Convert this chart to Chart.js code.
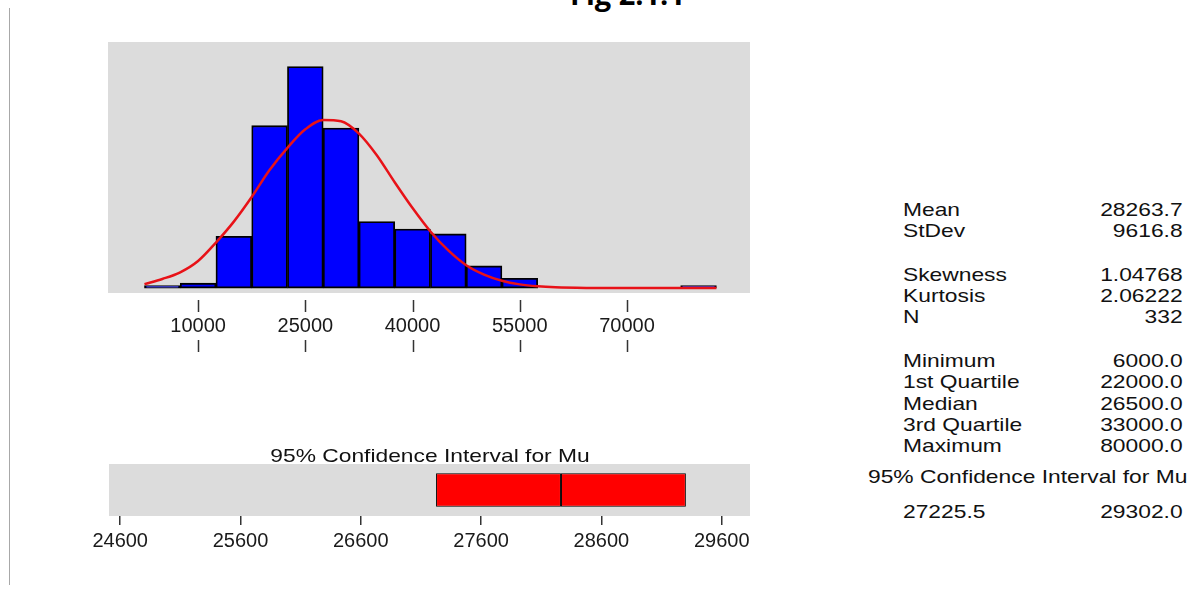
<!DOCTYPE html>
<html>
<head>
<meta charset="utf-8">
<title>Fig 2.1.1</title>
<script src="https://cdn.jsdelivr.net/npm/chart.js@4.4.1/dist/chart.umd.min.js"></script>
<style>
  html, body { margin: 0; padding: 0; background: #fff; }
  body { width: 1192px; height: 590px; position: relative; overflow: hidden;
         font-family: "Liberation Sans", Arial, sans-serif; color: #111; }
  .box { position: absolute; }
  #histBox { left: 0; top: 0; width: 800px; height: 380px; }
  #ciBox { left: 0; top: 430px; width: 800px; height: 160px; }
  #figTitle { position: absolute; left: 570px; top: -21px; font: bold 29px "Open Sans", sans-serif;
              line-height: 29px; white-space: nowrap; color: #000; }
  #frameLine { position: absolute; left: 9px; top: 8px; width: 1px; height: 577px; background: #a8a8a8; }
  .txt { position: absolute; white-space: nowrap; font-size: 19px; line-height: 22px;
         transform-origin: 0 50%; transform: scaleX(1.2); }
  .row { display: flex; justify-content: space-between; }
  #ciTitle { transform-origin: 50% 50%; transform: translateX(-50%) scaleX(1.2); }
</style>
</head>
<body>
<div id="figTitle">Fig 2.1.1</div>
<div id="frameLine"></div>
<div class="box" id="histBox"><canvas id="histChart"></canvas></div>
<div class="box" id="ciBox"><canvas id="ciChart"></canvas></div>
<div class="txt" id="ciTitle" style="left:429.5px; top:445px;">95% Confidence Interval for Mu</div>
<div id="stats"></div>

<script>
// histogram bins (bin centre, count), bin width 5000
const binCenters = [5000, 10000, 15000, 20000, 25000, 30000, 35000, 40000, 45000, 50000, 55000, 80000];
const binCounts = [1, 2, 21, 66, 90, 65, 27, 24, 22, 9, 4, 1];

// fitted normal curve
const curveX = [2500, 5000, 7500, 10000, 12500, 15000, 17500, 20000, 22500, 25000, 27500, 30000,
  32500, 35000, 37500, 40000, 42500, 45000, 47500, 50000, 52500, 55000, 57500, 60000, 65000, 70000, 75000, 82500];
const curveY = [1.6, 3.7, 6.4, 11, 18.5, 27, 37, 48, 57, 64.5, 68.3, 67.8,
  62.8, 54, 43, 32.5, 23, 15.3, 9.3, 5.5, 3, 1.5, 0.7, 0.3, 0.05, 0, 0, 0];

const histTicks = [10000, 25000, 40000, 55000, 70000];
const ciTicks = [24600, 25600, 26600, 27600, 28600, 29600];

const ciLower = 27225.5;
const ciMean = 28263.7;
const ciUpper = 29302.0;

const statLabels = ["Mean", "StDev", "Skewness", "Kurtosis", "N",
  "Minimum", "1st Quartile", "Median", "3rd Quartile", "Maximum"];
const statValues = ["28263.7", "9616.8", "1.04768", "2.06222", "332",
  "6000.0", "22000.0", "26500.0", "33000.0", "80000.0"];

// row centres of the text panel
const statRowY = [210, 231, 274.5, 295.8, 317, 361, 382.3, 403.6, 425, 446.3];

const tickFont = { family: "'Liberation Sans', Arial, sans-serif", size: 20 };

// grey plot panel
const panelBg = {
  id: "panelBg",
  beforeDraw(chart) {
    const { ctx, chartArea: a } = chart;
    ctx.save();
    ctx.fillStyle = "#dcdcdc";
    ctx.fillRect(a.left, a.top, a.right - a.left, a.bottom - a.top);
    ctx.restore();
  },
};

// tick marks above and below the histogram labels
const histTickMarks = {
  id: "histTickMarks",
  afterDraw(chart) {
    const { ctx, chartArea: a } = chart;
    const x = chart.scales.x;
    ctx.save();
    ctx.strokeStyle = "#333";
    ctx.lineWidth = 1.5;
    histTicks.forEach((v) => {
      const px = Math.round(x.getPixelForValue(v)) + 0.5;
      ctx.beginPath();
      ctx.moveTo(px, a.bottom + 7);
      ctx.lineTo(px, a.bottom + 19);
      ctx.moveTo(px, a.bottom + 47);
      ctx.lineTo(px, a.bottom + 59);
      ctx.stroke();
    });
    ctx.restore();
  },
};

new Chart(document.getElementById("histChart"), {
  type: "bar",
  data: {
    datasets: [
      {
        type: "line",
        data: curveX.map((x, i) => ({ x: x, y: curveY[i] })),
        borderColor: "#e81218",
        borderWidth: 2.5,
        pointRadius: 0,
        fill: false,
        cubicInterpolationMode: "monotone",
        order: 0,
      },
      {
        type: "bar",
        data: binCenters.map((c, i) => ({ x: c, y: binCounts[i] })),
        backgroundColor: "#0000ff",
        borderColor: "#000",
        borderWidth: 1.8,
        borderSkipped: false,
        barPercentage: 1,
        categoryPercentage: 1,
        order: 1,
      },
    ],
  },
  options: {
    responsive: true,
    maintainAspectRatio: false,
    animation: false,
    layout: { padding: { left: 108, right: 50, top: 42, bottom: 0 } },
    plugins: { legend: { display: false }, tooltip: { enabled: false } },
    scales: {
      x: {
        type: "linear",
        offset: false,
        min: -2600,
        max: 87200,
        grid: { display: false, drawTicks: false, offset: false },
        border: { display: false },
        afterBuildTicks: (s) => { s.ticks = histTicks.map((v) => ({ value: v })); },
        afterFit: (s) => { s.height = 87; },
        ticks: { padding: 21, font: tickFont, color: "#1a1a1a", callback: (v) => String(v) },
      },
      y: { display: false, min: -2, max: 100 },
    },
  },
  plugins: [panelBg, histTickMarks],
});

new Chart(document.getElementById("ciChart"), {
  type: "bar",
  data: {
    labels: ["Mu"],
    datasets: [
      {
        data: [[ciLower, ciMean]],
        backgroundColor: "#ff0000",
        borderColor: "#000",
        borderWidth: 1,
        borderSkipped: false,
        grouped: false,
        barPercentage: 1,
        categoryPercentage: 0.64,
      },
      {
        data: [[ciMean, ciUpper]],
        backgroundColor: "#ff0000",
        borderColor: "#000",
        borderWidth: 1,
        borderSkipped: false,
        grouped: false,
        barPercentage: 1,
        categoryPercentage: 0.64,
      },
    ],
  },
  options: {
    indexAxis: "y",
    responsive: true,
    maintainAspectRatio: false,
    animation: false,
    layout: { padding: { left: 109, right: 50, top: 34, bottom: 0 } },
    plugins: { legend: { display: false }, tooltip: { enabled: false } },
    scales: {
      x: {
        type: "linear",
        min: 24507,
        max: 29835,
        grid: { display: true, drawOnChartArea: false, drawTicks: true, tickLength: 9, color: "#333", lineWidth: 1.5 },
        border: { display: false },
        afterBuildTicks: (s) => { s.ticks = ciTicks.map((v) => ({ value: v })); },
        afterFit: (s) => { s.height = 74; },
        ticks: { padding: 4, font: tickFont, color: "#1a1a1a", callback: (v) => String(v) },
      },
      y: { display: false },
    },
  },
  plugins: [panelBg],
});

// text panel on the right
const stats = document.getElementById("stats");
function addText(html, left, y, cls, width) {
  const d = document.createElement("div");
  d.className = "txt " + (cls || "");
  d.style.left = left + "px";
  d.style.top = (y - 11) + "px";
  if (width) d.style.width = width + "px";
  d.innerHTML = html;
  stats.appendChild(d);
}
statLabels.forEach((lab, i) => {
  addText("<span>" + lab + "</span><span>" + statValues[i] + "</span>", 903, statRowY[i], "row", 233);
});
addText("95% Confidence Interval for Mu", 868, 477);
addText("<span>" + ciLower.toFixed(1) + "</span><span>" + ciUpper.toFixed(1) + "</span>", 903, 512, "row", 233);
</script>
</body>
</html>
